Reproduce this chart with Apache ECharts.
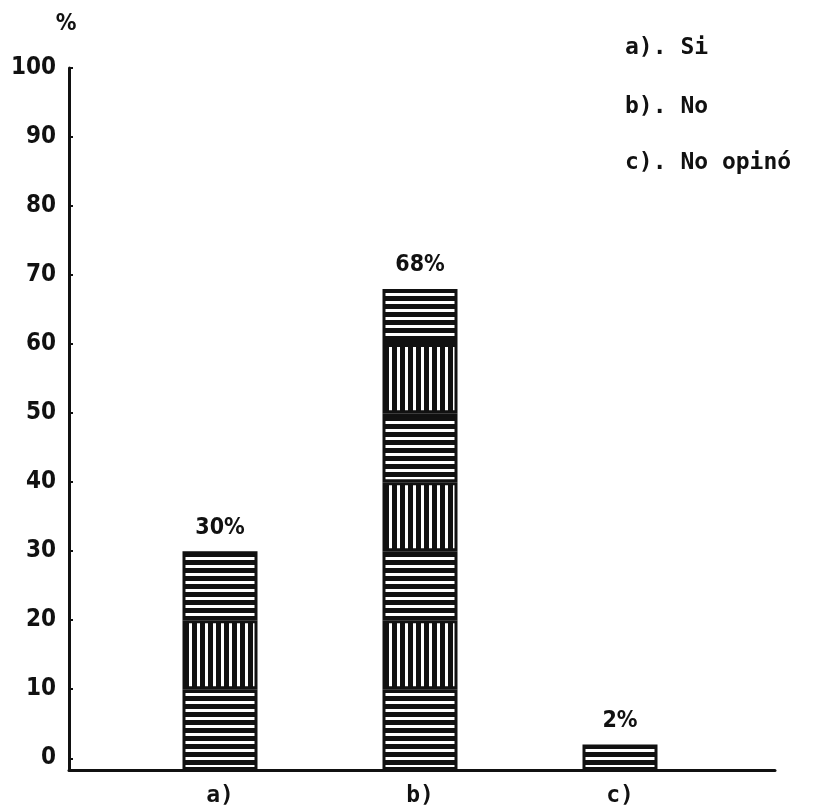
<!DOCTYPE html>
<html>
<head>
<meta charset="utf-8">
<script src="https://cdn.jsdelivr.net/npm/echarts@6/dist/echarts.min.js"></script>
<style>
html,body{margin:0;padding:0;background:#fff;}
#chart{width:814px;height:808px;}
</style>
</head>
<body>
<div id="chart"></div>
<script>
// ---- data ----
const categories = ['a)', 'b)', 'c)'];
const percents = [30, 68, 2];
const yTickValues = [0, 10, 20, 30, 40, 50, 60, 70, 80, 90, 100];
const legendLines = ['a). Si', 'b). No', 'c). No opinó'];
const bandSize = 10; // each pattern band of the bars spans 10 %

// ---- patterns ----
function stripePattern(vertical) {
  const c = document.createElement('canvas');
  const p = 8, b = 5;
  c.width = p; c.height = p;
  const g = c.getContext('2d');
  g.fillStyle = '#fff'; g.fillRect(0, 0, p, p);
  g.fillStyle = '#111';
  if (vertical) g.fillRect(0, 0, b, p); else g.fillRect(0, 0, p, b);
  return c;
}
const hPat = { image: stripePattern(false), repeat: 'repeat' };
const vPat = { image: stripePattern(true), repeat: 'repeat' };

const maxVal = Math.max.apply(null, percents);
const nBands = Math.ceil(maxVal / bandSize);
const series = [];
for (let s = 0; s < nBands; s++) {
  series.push({
    type: 'bar', xAxisIndex: 1, yAxisIndex: 1, stack: 'pct', barWidth: 75,
    data: percents.map(v => {
      const part = Math.min(bandSize, v - bandSize * s);
      return part > 0 ? part : '-';
    }),
    itemStyle: { color: s % 2 === 0 ? hPat : vPat, borderColor: '#111', borderWidth: 3 },
    silent: true, animation: false
  });
}
const labelFont = '"Liberation Sans Narrow", "DejaVu Sans Condensed", sans-serif';
const monoFont = '"DejaVu Sans Mono", "Liberation Mono", monospace';

series.push({
  type: 'bar', xAxisIndex: 1, yAxisIndex: 1, barWidth: 75, barGap: '-100%',
  data: percents,
  itemStyle: { color: 'rgba(0,0,0,0)' },
  label: {
    show: true, position: 'top', distance: 12, formatter: '{c}%',
    fontFamily: labelFont, fontWeight: 'bold', fontSize: 23, color: '#111'
  },
  z: 5, animation: false
});

const yMin = -1.7;

const chart = echarts.init(document.getElementById('chart'));
chart.setOption({
  backgroundColor: '#fff',
  animation: false,
  grid: [
    { left: 69, right: 39, top: 68, bottom: 38 },
    { left: 120, right: 94, top: 68, bottom: 38 }
  ],
  xAxis: [
    { gridIndex: 0, type: 'value', min: 0, max: 1,
      axisLine: { show: true, onZero: false, lineStyle: { color: '#111', width: 3 } },
      axisTick: { show: false }, axisLabel: { show: false }, splitLine: { show: false } },
    { gridIndex: 1, type: 'category', data: categories,
      axisLine: { show: false }, axisTick: { show: false },
      axisLabel: { margin: 15, fontFamily: monoFont, fontWeight: 'bold', fontSize: 23, color: '#111' } }
  ],
  yAxis: [
    { gridIndex: 0, type: 'value', min: yMin, max: 100,
      name: '%', nameLocation: 'end', nameGap: 32,
      nameTextStyle: { fontFamily: labelFont, fontWeight: 'bold', fontSize: 23, color: '#111', padding: [0, 6, 0, 0] },
      axisLine: { show: true, onZero: false, lineStyle: { color: '#111', width: 3 } },
      axisTick: { show: true, inside: true, length: 4, customValues: yTickValues, lineStyle: { color: '#111', width: 2 } },
      axisLabel: { customValues: yTickValues, margin: 13, fontFamily: labelFont, fontWeight: 'bold', fontSize: 24, color: '#111' },
      splitLine: { show: false } },
    { gridIndex: 1, type: 'value', min: yMin, max: 100, startValue: yMin, show: false }
  ],
  graphic: legendLines.map((t, i) => ({
    type: 'text', left: 625, top: [37, 96, 152][i],
    style: { text: t, font: 'bold 23px ' + monoFont, fill: '#111' }
  })),
  series: series
});
</script>
</body>
</html>
